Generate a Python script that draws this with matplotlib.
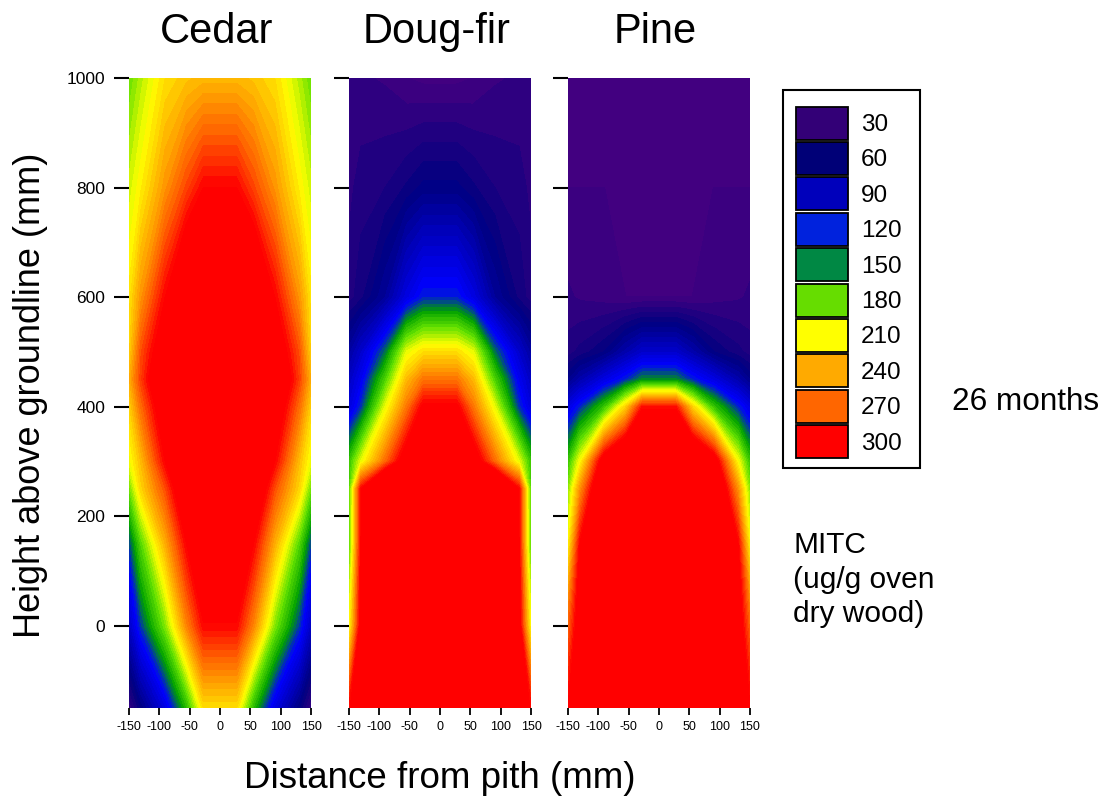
#!/usr/bin/env python3
import numpy as np
import matplotlib
matplotlib.use('Agg')
import matplotlib.pyplot as plt
from matplotlib.colors import LinearSegmentedColormap, Normalize
from matplotlib.patches import Rectangle

plt.rcParams['font.family'] = ['Liberation Sans', 'DejaVu Sans']
plt.rcParams['axes.unicode_minus'] = False

W, H = 1108, 800

species = ['Cedar', 'Doug-fir', 'Pine']
# left half of each section, the right half is the mirror image
x_half = [-150, -130, -90, -55, -27]
y_nodes = [-150, 0, 150, 250, 300, 400, 450, 500, 600, 800, 1000]

cedar = [[35, 60, 105, 160, 222],
         [90, 130, 185, 255, 298],
         [130, 175, 240, 300, 345],
         [180, 225, 275, 335, 370],
         [205, 235, 300, 360, 390],
         [225, 265, 325, 385, 410],
         [238, 280, 345, 400, 420],
         [225, 275, 325, 385, 410],
         [218, 250, 300, 345, 370],
         [200, 215, 250, 278, 300],
         [180, 195, 222, 232, 237]]

dougfir = [[295, 340, 420, 450, 450],
           [205, 310, 400, 450, 450],
           [170, 300, 400, 430, 430],
           [170, 298, 380, 420, 430],
           [165, 205, 265, 320, 370],
           [102, 128, 205, 260, 305],
           [90, 112, 172, 235, 262],
           [75, 95, 140, 205, 222],
           [45, 52, 72, 105, 125],
           [40, 45, 48, 55, 62],
           [40, 37, 35, 30, 28]]

pine = [[300, 345, 420, 450, 450],
        [265, 320, 400, 450, 450],
        [210, 300, 400, 430, 450],
        [185, 250, 350, 400, 430],
        [165, 210, 320, 360, 400],
        [105, 125, 165, 225, 295],
        [65, 80, 105, 125, 145],
        [45, 50, 60, 80, 95],
        [37, 35, 33, 30, 30],
        [30, 30, 30, 30, 30],
        [30, 30, 30, 30, 30]]

legend_values = [30, 60, 90, 120, 150, 180, 210, 240, 270, 300]
legend_colors = ['#330077', '#000077', '#0000bb', '#0022dd', '#008844',
                 '#66dd00', '#ffff00', '#ffaa00', '#ff6600', '#ff0000']
# colours used in the surfaces, the pure blue and green differ from the key
surface_colors = ['#400080', '#000080', '#0000c0', '#0000ff', '#00a000',
                  '#60e000', '#ffff00', '#ffb000', '#ff6000', '#ff0000']

x_ticks = [-150, -100, -50, 0, 50, 100, 150]
y_ticks = [0, 200, 400, 600, 800, 1000]

panel_left = [129, 349, 568]
panel_width = 182
panel_top = 78
panel_bottom = 708


def px_axes(fig, left, top, width, height):
    return fig.add_axes([left / W, 1 - (top + height) / H, width / W, height / H])


fig = plt.figure(figsize=(W / 100, H / 100), dpi=100)

cmap = LinearSegmentedColormap.from_list(
    'mitc', [((v - 30) / 270, c) for v, c in zip(legend_values, surface_colors)])
cmap.set_under('#420080')
cmap.set_over(surface_colors[-1])
norm = Normalize(30, 300)
levels = np.arange(30, 301, 6)

x_full = np.array(x_half + [-v for v in x_half[::-1]])
for i, (name, half) in enumerate(zip(species, [cedar, dougfir, pine])):
    half = np.array(half, dtype=float)
    z = np.hstack([half, half[:, ::-1]])
    ax = px_axes(fig, panel_left[i], panel_top, panel_width, panel_bottom - panel_top)
    cs = ax.contourf(x_full, y_nodes, z, levels=levels, cmap=cmap, norm=norm, extend='both')
    cs.set_edgecolor('face')
    cs.set_linewidth(0.3)
    ax.set_xlim(-150, 150)
    ax.set_ylim(-150, 1000)
    for s in ax.spines.values():
        s.set_visible(False)
    ax.set_xticks(x_ticks)
    ax.set_yticks(y_ticks)
    ax.tick_params(axis='x', length=5, width=1.3, labelsize=9, pad=4)
    ax.tick_params(axis='y', length=11, width=1.5, labelsize=12.5, pad=6, labelleft=(i == 0))
    ax.text(0.48, 1.042, name, transform=ax.transAxes, ha='center', va='bottom',
            fontsize=30, clip_on=False)

# overlay in pixel coordinates for the key and the free text
over = fig.add_axes([0, 0, 1, 1], zorder=5)
over.set_xlim(0, W)
over.set_ylim(H, 0)
over.axis('off')
over.add_patch(Rectangle((783, 90), 137, 378, fc='white', ec='black', lw=1.5))
for k, (val, col) in enumerate(zip(legend_values, legend_colors)):
    top = 106.5 + k * 35.4
    over.add_patch(Rectangle((796, top), 52, 33, fc=col, ec='black', lw=1.3))
    over.text(861, top + 18.5, str(val), fontsize=17.5, ha='left', va='center')

over.text(952, 402, '26 months', fontsize=22.7, ha='left', va='center')
over.text(793, 545, 'MITC', fontsize=21.5, ha='left', va='center')
over.text(793, 580, '(ug/g oven', fontsize=21.5, ha='left', va='center')
over.text(793, 614, 'dry wood)', fontsize=21.5, ha='left', va='center')
over.text(440, 778, 'Distance from pith (mm)', fontsize=26.5, ha='center', va='center')
over.text(31, 395, 'Height above groundline (mm)', fontsize=26, ha='center', va='center',
          rotation=90)

fig.savefig('out.png', dpi=100)
